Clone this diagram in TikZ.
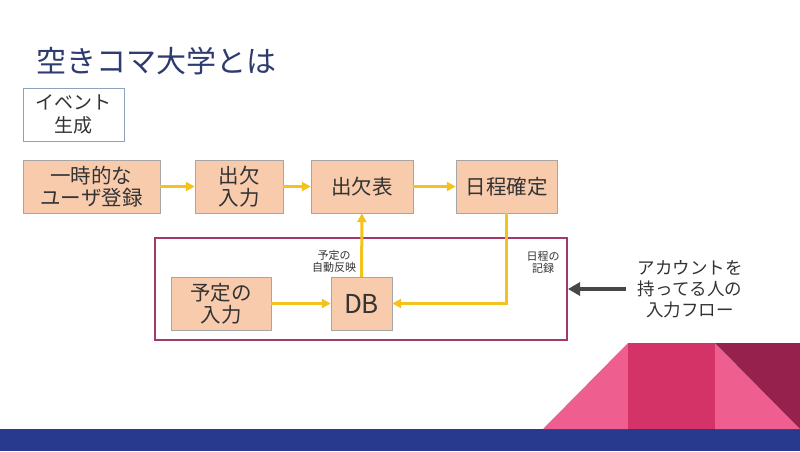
\documentclass[tikz,border=0pt]{standalone}
\usepackage{fontspec}
\setmainfont{Noto Sans CJK JP}
\usetikzlibrary{arrows.meta}
\definecolor{peach}{HTML}{F8CBAD}
\definecolor{boxline}{HTML}{A6A6A6}
\definecolor{eventline}{HTML}{8FA2BD}
\definecolor{arrowyellow}{HTML}{F4C21C}
\definecolor{framepurple}{HTML}{A4386C}
\definecolor{titlenavy}{HTML}{2E3B6E}
\definecolor{bandblue}{HTML}{283A8E}
\definecolor{pinklight}{HTML}{EE5E8E}
\definecolor{pinkmid}{HTML}{D33367}
\definecolor{pinkdark}{HTML}{97214D}
\definecolor{textgray}{HTML}{333333}

\tikzset{
  box/.style={draw=boxline, fill=peach, minimum height=53pt, align=center,
    text=textgray, font=\fontsize{20.5}{22}\selectfont, inner sep=0pt},
  flow/.style={-{Triangle[length=9pt,width=9pt]}, draw=arrowyellow, line width=3pt},
  note/.style={align=center, text=textgray, font=\fontsize{11}{12}\selectfont}
}

\begin{document}
\begin{tikzpicture}[x=1pt,y=-1pt]
\useasboundingbox (0,0) rectangle (800,451);

% background shapes
\fill[bandblue] (0,429) rectangle (800,451);
\fill[pinklight] (543,429) -- (628,343) -- (628,429) -- cycle;
\fill[pinkmid] (628,343) rectangle (715,429);
\fill[pinklight] (715,343) -- (800,429) -- (715,429) -- cycle;
\fill[pinkdark] (715,343) -- (800,343) -- (800,429) -- cycle;

\node[anchor=west, text=titlenavy, font=\fontsize{30}{32}\selectfont] (title) at (33,61) {空きコマ大学とは};

\node[box, fill=white, draw=eventline, minimum width=101pt, font=\fontsize{19}{23}\selectfont] (event) at (73.5,114.5) {イベント\\生成};

% main row
\node[box, minimum width=137pt] (temp) at (91.5,186.5) {一時的な\\ユーザ登録};
\node[box, minimum width=88pt] (attend) at (239,186.5) {出欠\\入力};
\node[box, minimum width=102pt] (table) at (362,186.5) {出欠表};
\node[box, minimum width=101pt] (fix) at (506.5,186.5) {日程確定};

% account flow
\node[draw=framepurple, line width=2pt, minimum width=412pt, minimum height=102pt] (frame) at (361,289) {};
\node[box, minimum width=100pt] (plan) at (221,303.5) {予定の\\入力};
\node[box, minimum width=61pt, font=\fontsize{26}{28}\selectfont] (db) at (361.5,303.5) {DB};

\node[note] (auto) at (334,261) {予定の\\自動反映};
\node[note] (record) at (543,262) {日程の\\記録};

\node[align=center, text=textgray, font=\fontsize{17.5}{21}\selectfont] (account) at (690,289) {アカウントを\\持ってる人の\\入力フロー};

\draw[flow] (temp) -- (attend);
\draw[flow] (attend) -- (table);
\draw[flow] (table) -- (fix);
\draw[flow] (plan) -- (db);
\draw[flow] (db) -- (table);
\draw[flow] (fix.south) |- (db.east);
\draw[-{Triangle[length=12pt,width=13pt]}, draw=textgray!90, line width=3.5pt] (account.west) ++(-8,0) -- (frame.east);
\end{tikzpicture}
\end{document}
